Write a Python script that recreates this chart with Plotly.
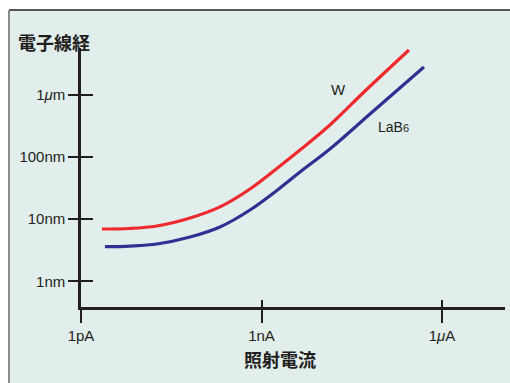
import plotly.graph_objects as go

# Probe current (pA) vs. electron beam diameter (nm)
w_current_pA = [2.23, 6.5, 18.3, 65, 204, 644, 2030, 4360, 13700, 52500, 282500]
w_diameter_nm = [6.93, 7.06, 7.74, 10.4, 15.7, 30.5, 71.5, 129, 326, 1146, 5240]

lab6_current_pA = [2.5, 6.5, 18.3, 65, 204, 644, 2030, 4360, 13700, 63500, 501000]
lab6_diameter_nm = [3.6, 3.69, 3.98, 5.15, 7.46, 14.0, 31.6, 57.1, 134, 490, 2790]

x_tickvals = [1, 1000, 1000000]
x_ticktext = ["1pA", "1nA", "1<i>μ</i>A"]
y_tickvals = [1, 10, 100, 1000]
y_ticktext = ["1nm", "10nm", "100nm", "1<i>μ</i>m"]

INK = "#231f20"
PANEL = "#e2eeeb"
RED = "#ee2a2e"
BLUE = "#2e3192"

W, H = 510, 383
ML, MR, MT, MB = 81, 5, 48, 76
PW, PH = W - ML - MR, H - MT - MB

def px_x(p):
    return (p - ML) / PW

def px_y(p):
    return (H - MB - p) / PH

fig = go.Figure()
fig.add_trace(go.Scatter(x=w_current_pA, y=w_diameter_nm, mode="lines",
                         line=dict(color=RED, width=3.2, shape="spline", smoothing=1.0),
                         showlegend=False, hoverinfo="skip"))
fig.add_trace(go.Scatter(x=lab6_current_pA, y=lab6_diameter_nm, mode="lines",
                         line=dict(color=BLUE, width=3.2, shape="spline", smoothing=1.0),
                         showlegend=False, hoverinfo="skip"))
# invisible trace to carry the overlay axes
fig.add_trace(go.Scatter(x=[1], y=[1], xaxis="x2", yaxis="y2", mode="markers",
                         marker=dict(opacity=0), showlegend=False, hoverinfo="skip"))

xr = [0, 7.047]
yr = [-0.413, 3.751]
tickfont = dict(family="Liberation Sans, Arial, sans-serif", size=15, color=INK)

fig.update_layout(
    width=W, height=H,
    margin=dict(l=ML, r=MR, t=MT, b=MB),
    paper_bgcolor="white",
    plot_bgcolor="rgba(0,0,0,0)",
    xaxis=dict(type="log", range=xr, showgrid=False, zeroline=False,
               showline=True, linecolor=INK, linewidth=2.5,
               tickvals=x_tickvals, ticktext=x_ticktext,
               ticks="outside", ticklen=13, tickwidth=1.5, tickcolor=INK,
               tickfont=tickfont),
    xaxis2=dict(type="log", range=xr, overlaying="x", side="bottom",
                showgrid=False, zeroline=False, showline=False,
                tickvals=x_tickvals[1:], showticklabels=False,
                ticks="inside", ticklen=7, tickwidth=1.5, tickcolor=INK),
    yaxis=dict(type="log", range=yr, showgrid=False, zeroline=False,
               showline=True, linecolor=INK, linewidth=2.5,
               tickvals=y_tickvals, ticktext=y_ticktext,
               ticks="outside", ticklen=10, tickwidth=2, tickcolor=INK,
               tickfont=tickfont),
    yaxis2=dict(type="log", range=yr, overlaying="y", side="left",
                showgrid=False, zeroline=False, showline=False,
                tickvals=y_tickvals, showticklabels=False,
                ticks="inside", ticklen=12, tickwidth=2, tickcolor=INK),
    shapes=[
        dict(type="rect", xref="paper", yref="paper", layer="below",
             x0=px_x(9), x1=px_x(W + 2), y0=px_y(H + 2), y1=px_y(10),
             fillcolor=PANEL, line=dict(width=0)),
        dict(type="line", xref="paper", yref="paper",
             x0=px_x(9), x1=px_x(W + 2), y0=px_y(10), y1=px_y(10),
             line=dict(color=INK, width=1.5)),
        dict(type="line", xref="paper", yref="paper",
             x0=px_x(9), x1=px_x(9), y0=px_y(10), y1=px_y(H + 2),
             line=dict(color="#8a8a8a", width=2)),
    ],
    annotations=[
        dict(text="電子線経", xref="paper", yref="paper",
             x=px_x(16), y=px_y(42), xanchor="left", yanchor="middle",
             showarrow=False,
             font=dict(family="Noto Sans CJK JP", size=18, color=INK, weight="bold")),
        dict(text="照射電流", xref="paper", yref="paper",
             x=px_x(280), y=px_y(359), xanchor="center", yanchor="middle",
             showarrow=False,
             font=dict(family="Noto Sans CJK JP", size=18, color=INK, weight="bold")),
        dict(text="W", xref="paper", yref="paper",
             x=px_x(338), y=px_y(89), xanchor="center", yanchor="middle",
             showarrow=False, font=tickfont),
        dict(text="LaB<span style='font-size:11px'>6</span>", xref="paper", yref="paper",
             x=px_x(376), y=px_y(127), xanchor="left", yanchor="middle",
             showarrow=False, font=dict(tickfont, size=14)),
    ],
)

fig.write_html("out.html")
